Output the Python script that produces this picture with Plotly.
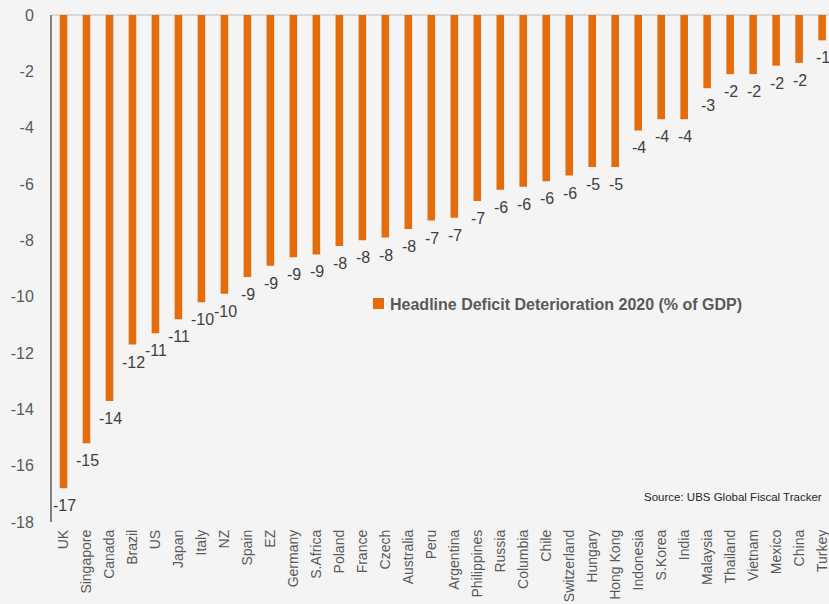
import plotly.graph_objects as go

countries = ["UK", "Singapore", "Canada", "Brazil", "US", "Japan", "Italy", "NZ", "Spain", "EZ",
             "Germany", "S.Africa", "Poland", "France", "Czech", "Australia", "Peru", "Argentina",
             "Philippines", "Russia", "Columbia", "Chile", "Switzerland", "Hungary", "Hong Kong",
             "Indonesia", "S.Korea", "India", "Malaysia", "Thailand", "Vietnam", "Mexico", "China", "Turkey"]
deficit = [-16.8, -15.2, -13.7, -11.7, -11.3, -10.8, -10.2, -9.9, -9.3, -8.9,
           -8.6, -8.5, -8.2, -8.0, -7.9, -7.6, -7.3, -7.2,
           -6.6, -6.2, -6.1, -5.9, -5.7, -5.4, -5.4,
           -4.1, -3.7, -3.7, -2.6, -2.1, -2.1, -1.8, -1.7, -0.9]
labels = ["-17", "-15", "-14", "-12", "-11", "-11", "-10", "-10", "-9", "-9",
          "-9", "-9", "-8", "-8", "-8", "-8", "-7", "-7",
          "-7", "-6", "-6", "-6", "-6", "-5", "-5",
          "-4", "-4", "-4", "-3", "-2", "-2", "-2", "-2", "-1"]
y_ticks = [0, -2, -4, -6, -8, -10, -12, -14, -16, -18]
series_name = "Headline Deficit Deterioration 2020 (% of GDP)"
source_text = "Source: UBS Global Fiscal Tracker"

FONT = "Liberation Sans, Arial, sans-serif"
GREY = "#595959"
ORANGE = "#E46C0A"

fig = go.Figure()
fig.add_trace(go.Bar(
    x=countries, y=deficit,
    name=series_name,
    marker=dict(color=ORANGE, line=dict(width=0)),
    width=0.33,
    showlegend=False,
))

annotations = []
for c, v, t in zip(countries, deficit, labels):
    annotations.append(dict(x=c, y=v, xref="x", yref="y", text=t, showarrow=False,
                            xanchor="center", yanchor="top", yshift=-7, xshift=1,
                            font=dict(family=FONT, size=16, color="#404040")))

# manual legend
annotations.append(dict(text="<b>" + series_name + "</b>", xref="paper", yref="paper",
                        x=(388 - 52) / 777, y=1 - (304 - 15) / 507, xanchor="left", yanchor="middle",
                        showarrow=False, font=dict(family=FONT, size=16, color=GREY)))
annotations.append(dict(text=source_text, xref="paper", yref="paper",
                        x=0.993, y=1 - (497 - 15) / 507, xanchor="right", yanchor="middle",
                        showarrow=False, font=dict(family=FONT, size=11.5, color="#262626")))

fig.update_layout(
    width=829, height=604,
    margin=dict(l=52, r=0, t=15, b=82),
    paper_bgcolor="#F4F4F4", plot_bgcolor="#F4F4F4",
    font=dict(family=FONT, color=GREY),
    showlegend=False,
    xaxis=dict(range=[-0.5, 33.3], tickangle=-90, showgrid=False, automargin=False,
               tickfont=dict(family=FONT, size=14, color=GREY), ticklabelstandoff=4,
               showline=False, ticks="", zeroline=False),
    yaxis=dict(range=[-18, 0], tickvals=y_ticks, ticktext=[str(v) for v in y_ticks],
               showgrid=False, zeroline=True, zerolinecolor="#D9D9D9", zerolinewidth=2,
               showline=True, linecolor="#808080", linewidth=2, automargin=False,
               ticks="", tickfont=dict(family=FONT, size=16, color=GREY), ticklabelstandoff=13),
    annotations=annotations,
    shapes=[dict(type="rect", xref="paper", yref="paper",
                 x0=(373 - 52) / 777, x1=(384 - 52) / 777,
                 y0=1 - (309 - 15) / 507, y1=1 - (298 - 15) / 507,
                 fillcolor=ORANGE, line=dict(width=0))],
)

fig.write_html("out.html")
